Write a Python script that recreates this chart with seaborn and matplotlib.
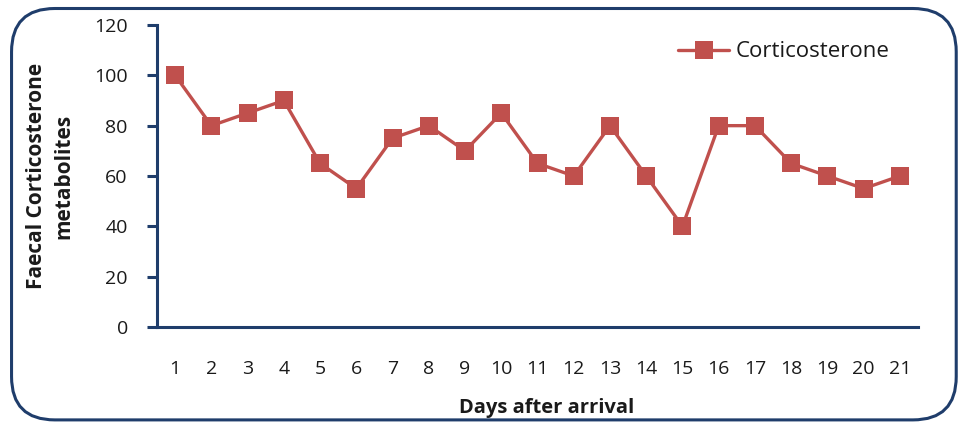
import matplotlib
matplotlib.use("Agg")
import matplotlib.pyplot as plt
from matplotlib.patches import FancyBboxPatch
import seaborn as sns
import pandas as pd

days = list(range(1, 22))
corticosterone = [100, 80, 85, 90, 65, 55, 75, 80, 70, 85, 65, 60, 80, 60, 40, 80, 80, 65, 60, 55, 60]
y_ticks = [0, 20, 40, 60, 80, 100, 120]

df = pd.DataFrame({"Day": days, "Corticosterone": corticosterone})

sns.set_theme(style="white")
plt.rcParams["font.family"] = ["Open Sans", "DejaVu Sans"]

navy = "#1f3d6b"
red = "#c0504d"
text_col = "#1a1a1a"

fig = plt.figure(figsize=(9.62, 4.25), dpi=100)
ax = fig.add_axes([0.1632, 0.2306, 0.7911, 0.7106])

sns.lineplot(data=df, x="Day", y="Corticosterone", ax=ax, color=red,
             linewidth=2.4, marker="s", markersize=13.5, markeredgewidth=0,
             label="Corticosterone")

ax.set_xlim(0.5, 21.5)
ax.set_ylim(0, 120)
ax.set_xticks(days)
ax.set_xticklabels([str(d) for d in days])
ax.set_yticks(y_ticks)

for side in ("top", "right"):
    ax.spines[side].set_visible(False)
for side in ("left", "bottom"):
    ax.spines[side].set_color(navy)
    ax.spines[side].set_linewidth(2.2)

ax.tick_params(axis="y", which="major", direction="out", length=7, width=2.2,
               color=navy, pad=14, labelsize=14, labelcolor=text_col, left=True)
ax.tick_params(axis="x", which="major", length=0, pad=24, labelsize=14,
               labelcolor=text_col, bottom=True)

ax.set_xlabel("Days after arrival", fontsize=14.5, fontweight="bold", color=text_col, labelpad=10)
ax.xaxis.set_label_coords(0.512, -0.235)
ax.set_ylabel("Faecal Corticosterone\nmetabolites", fontsize=15, fontweight="bold",
              color=text_col, labelpad=14.5, linespacing=1.4)

leg = ax.legend(loc="center left", bbox_to_anchor=(0.6846, 0.9106), frameon=False,
                fontsize=16, handlelength=2.3, handletextpad=0.3,
                borderpad=0, borderaxespad=0)
for t in leg.get_texts():
    t.set_color(text_col)

frame = FancyBboxPatch((0.012, 0.012), 0.982, 0.968,
                       boxstyle="round,pad=0,rounding_size=0.045",
                       transform=fig.transFigure, fill=False,
                       edgecolor=navy, linewidth=2.2, mutation_aspect=962/425)
fig.patches.append(frame)

fig.savefig("out.png", dpi=100)
